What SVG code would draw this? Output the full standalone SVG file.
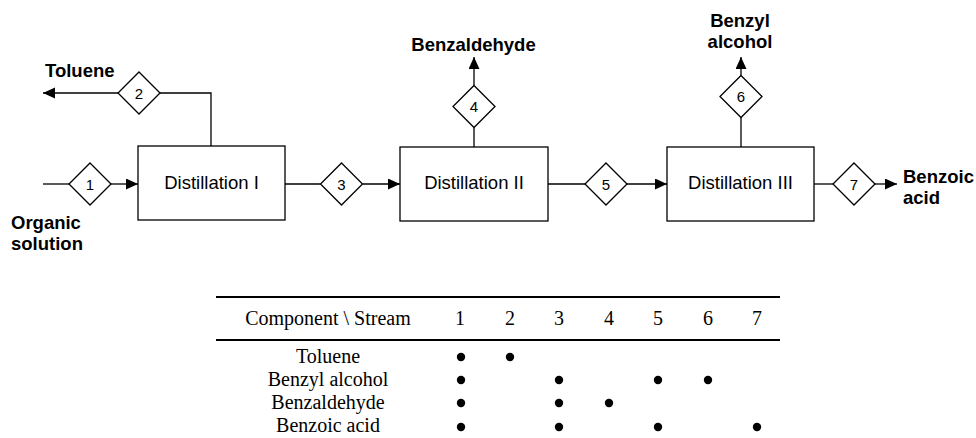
<svg xmlns="http://www.w3.org/2000/svg" width="976" height="438" viewBox="0 0 976 438">
<defs>
<marker id="arr" markerUnits="userSpaceOnUse" markerWidth="13" markerHeight="12" refX="12" refY="5.5" orient="auto">
<path d="M0,0 L12,5.5 L0,11 z" fill="#000"/>
</marker>
<style>
.box{fill:#fff;stroke:#000;stroke-width:1.3}
.dia{fill:#fff;stroke:#000;stroke-width:1.3}
.ln{fill:none;stroke:#000;stroke-width:1.3}
.bt{font-family:"Liberation Sans",Arial,sans-serif;font-size:18.5px;fill:#000;text-anchor:middle}
.num{font-family:"Liberation Sans",Arial,sans-serif;font-size:15px;fill:#000;text-anchor:middle}
.lab{font-family:"Liberation Sans",Arial,sans-serif;font-size:18.5px;font-weight:bold;fill:#000}
.tt{font-family:"Liberation Serif","Times New Roman",serif;font-size:20px;fill:#000;text-anchor:middle}
.rule{stroke:#000;stroke-width:2.2}
</style>
</defs>
<rect width="976" height="438" fill="#fff"/>
<g id="connectors">
<path class="ln" d="M43,184 L69,184"/>
<path class="ln" d="M111,184 L138,184" marker-end="url(#arr)"/>
<path class="ln" d="M211,146 L211,93 L160,93"/>
<path class="ln" d="M118,93 L43,93" marker-end="url(#arr)"/>
<path class="ln" d="M285,184 L320.5,184"/>
<path class="ln" d="M362.5,184 L400,184" marker-end="url(#arr)"/>
<path class="ln" d="M474,147 L474,127.5"/>
<path class="ln" d="M474,85.5 L474,57" marker-end="url(#arr)"/>
<path class="ln" d="M548,184 L585,184"/>
<path class="ln" d="M627,184 L667,184" marker-end="url(#arr)"/>
<path class="ln" d="M741,147 L741,117.5"/>
<path class="ln" d="M741,75.5 L741,57" marker-end="url(#arr)"/>
<path class="ln" d="M814,184 L833,184"/>
<path class="ln" d="M875,184 L897,184" marker-end="url(#arr)"/>
</g>
<g id="distillation-1"><rect class="box" x="138" y="146" width="147" height="74"/><text class="bt" x="211.5" y="189">Distillation I</text></g>
<g id="distillation-2"><rect class="box" x="400" y="147" width="148" height="74"/><text class="bt" x="474" y="189">Distillation II</text></g>
<g id="distillation-3"><rect class="box" x="667" y="147" width="147" height="74"/><text class="bt" x="740.5" y="189">Distillation III</text></g>
<g id="stream-1"><path class="dia" d="M90,163 L111,184 L90,205 L69,184 z"/><text class="num" x="90" y="189.5">1</text></g>
<g id="stream-2"><path class="dia" d="M139,72 L160,93 L139,114 L118,93 z"/><text class="num" x="139" y="98.5">2</text></g>
<g id="stream-3"><path class="dia" d="M341.5,163 L362.5,184 L341.5,205 L320.5,184 z"/><text class="num" x="341.5" y="189.5">3</text></g>
<g id="stream-4"><path class="dia" d="M474,85.5 L495,106.5 L474,127.5 L453,106.5 z"/><text class="num" x="474" y="112">4</text></g>
<g id="stream-5"><path class="dia" d="M606,163 L627,184 L606,205 L585,184 z"/><text class="num" x="606" y="189.5">5</text></g>
<g id="stream-6"><path class="dia" d="M741,75.5 L762,96.5 L741,117.5 L720,96.5 z"/><text class="num" x="741" y="102">6</text></g>
<g id="stream-7"><path class="dia" d="M854,163 L875,184 L854,205 L833,184 z"/><text class="num" x="854" y="189.5">7</text></g>
<g id="label-toluene"><text class="lab" x="45" y="77">Toluene</text></g>
<g id="label-organic"><text class="lab" x="11" y="229">Organic</text><text class="lab" x="11" y="250">solution</text></g>
<g id="label-benzaldehyde"><text class="lab" x="473.5" y="51" text-anchor="middle">Benzaldehyde</text></g>
<g id="label-benzyl"><text class="lab" x="740" y="27" text-anchor="middle">Benzyl</text><text class="lab" x="740" y="48" text-anchor="middle">alcohol</text></g>
<g id="label-benzoic"><text class="lab" x="903" y="183">Benzoic</text><text class="lab" x="903" y="204">acid</text></g>
<g id="table">
<line class="rule" x1="216" y1="297" x2="780" y2="297"/>
<line class="rule" x1="216" y1="340" x2="780" y2="340"/>
<text class="tt" x="328" y="325">Component \ Stream</text>
<text class="tt" x="460" y="325">1</text>
<text class="tt" x="510" y="325">2</text>
<text class="tt" x="559" y="325">3</text>
<text class="tt" x="609" y="325">4</text>
<text class="tt" x="658" y="325">5</text>
<text class="tt" x="708" y="325">6</text>
<text class="tt" x="757" y="325">7</text>
<text class="tt" x="328" y="363">Toluene</text>
<text class="tt" x="328" y="386">Benzyl alcohol</text>
<text class="tt" x="328" y="409">Benzaldehyde</text>
<text class="tt" x="328" y="432">Benzoic acid</text>
<g fill="#000">
<circle cx="461" cy="357" r="4.2"/><circle cx="510" cy="357" r="4.2"/>
<circle cx="461" cy="380" r="4.2"/><circle cx="559" cy="380" r="4.2"/><circle cx="658" cy="380" r="4.2"/><circle cx="708" cy="380" r="4.2"/>
<circle cx="461" cy="403" r="4.2"/><circle cx="559" cy="403" r="4.2"/><circle cx="609" cy="403" r="4.2"/>
<circle cx="461" cy="427" r="4.2"/><circle cx="559" cy="427" r="4.2"/><circle cx="658" cy="427" r="4.2"/><circle cx="757" cy="427" r="4.2"/>
</g>
</g>
</svg>
